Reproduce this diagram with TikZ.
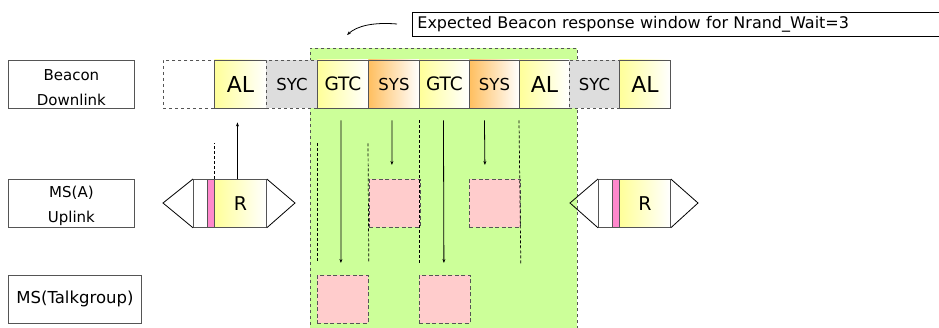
\documentclass[tikz,border=0pt]{standalone}
\usepackage{fontspec}
\setmainfont{DejaVu Sans}
\usetikzlibrary{arrows.meta}
\definecolor{greenbg}{HTML}{CCFF99}
\definecolor{pinkbox}{HTML}{FFCCCC}
\definecolor{yel}{HTML}{FFFF99}
\definecolor{ora}{HTML}{FFBF60}
\definecolor{gry}{HTML}{DDDDDD}
\definecolor{brd}{HTML}{555555}
\definecolor{stripe}{HTML}{FF88CC}
\tikzset{
 slot/.style={draw=brd, line width=0.9pt, minimum height=48pt, inner sep=0pt, anchor=west},
 alslot/.style={slot, left color=yel, right color=white, font=\fontsize{22}{22}\selectfont},
 gtcslot/.style={slot, left color=yel, right color=white, font=\fontsize{18.5}{18.5}\selectfont},
 sysslot/.style={slot, left color=ora, right color=white, font=\fontsize{16.5}{16.5}\selectfont},
 sycslot/.style={slot, fill=gry, dashed, font=\fontsize{16.5}{16.5}\selectfont},
 emptyslot/.style={slot, fill=white, dashed},
 pinkb/.style={draw=brd, line width=0.8pt, dashed, dash pattern=on 4pt off 2.5pt, fill=pinkbox, minimum width=51pt, minimum height=48pt, inner sep=0pt, anchor=north west},
 lbl/.style={draw=brd, line width=0.8pt, fill=white, minimum height=48pt, inner sep=0pt, anchor=north west},
 lbltext/.style={align=center, inner sep=0pt, font=\fontsize{15}{25}\selectfont},
 dline/.style={black, line width=0.7pt, dash pattern=on 3pt off 2pt},
 arr/.style={black, line width=0.8pt, -{Stealth[length=4pt,width=3pt]}},
 ubox/.style={draw=brd, line width=0.8pt, minimum height=48pt, inner sep=0pt, anchor=north west},
 tri/.style={black, line width=0.8pt},
}
\begin{document}
\begin{tikzpicture}[x=1pt,y=-1pt]
\useasboundingbox (0,0) rectangle (939,328);
\clip (0,0) rectangle (939,328);
% response window
\node[fill=greenbg, draw=brd, dashed, line width=0.8pt, minimum width=267pt, minimum height=290pt, inner sep=0pt, anchor=north west] (win) at (310,48) {};
% caption
\node[draw=black, line width=0.8pt, anchor=north west, minimum height=24pt, text width=560pt, inner xsep=5pt, inner ysep=0pt, align=left, font=\fontsize{16}{16}\selectfont] (tb) at (412,12) {Expected Beacon response window for Nrand\_Wait=3};
\coordinate (cs) at (397,24);
\coordinate (ce) at (347,35);
\draw[arr] (cs) .. controls (373,22) and (357,26) .. (ce);
% row labels
\node[lbl, minimum width=126pt] (l1) at (8,60) {};
\node[lbltext] (l1t) at ([yshift=-3pt]l1.center) {Beacon\\Downlink};
\node[lbl, minimum width=126pt] (l2) at (8,179) {};
\node[lbltext] (l2t) at ([yshift=-2pt]l2.center) {MS(A)\\Uplink};
\node[lbl, minimum width=133pt] (l3) at (8,275) {};
\node[lbltext, font=\fontsize{16.5}{16.5}\selectfont] (l3t) at (l3.center) {MS(Talkgroup)};
% beacon downlink slots
\node[emptyslot, minimum width=51pt] (b0) at (163,84) {};
\node[alslot, minimum width=52pt] (b1) at (214,84) {AL};
\node[sycslot, minimum width=51pt] (b2) at (266,84) {SYC};
\node[gtcslot, minimum width=51pt] (b3) at (317,84) {GTC};
\node[sysslot, minimum width=51pt] (b4) at (368,84) {SYS};
\node[gtcslot, minimum width=50pt] (b5) at (419,84) {GTC};
\node[sysslot, minimum width=50pt] (b6) at (469,84) {SYS};
\node[alslot, minimum width=50pt] (b7) at (519,84) {AL};
\node[sycslot, minimum width=50pt] (b8) at (569,84) {SYC};
\node[alslot, minimum width=51pt] (b9) at (619,84) {AL};
% pink response boxes
\node[pinkb] (p1) at (369,179) {};
\node[pinkb] (p2) at (469,179) {};
\node[pinkb] (t1) at (317,275) {};
\node[pinkb] (t2) at (419,275) {};
% MS(A) uplink, first burst
\node[ubox, fill=white, minimum width=14pt] (u1w) at (193,179) {};
\node[ubox, fill=stripe, minimum width=7pt] (u1s) at (207,179) {};
\node[ubox, left color=yel, right color=white, minimum width=52pt, font=\fontsize{19}{19}\selectfont] (r1) at (214,179) {R};
\coordinate (u1l) at (163,203);
\coordinate (u1r) at (295,203);
\draw[tri] (u1w.north west) -- (u1l) -- (u1w.south west);
\draw[tri] (r1.north east) -- (u1r) -- (r1.south east);
% MS(A) uplink, second burst
\node[ubox, fill=white, minimum width=14pt] (u2w) at (598,179) {};
\node[ubox, fill=stripe, minimum width=7pt] (u2s) at (612,179) {};
\node[ubox, left color=yel, right color=white, minimum width=51pt, font=\fontsize{19}{19}\selectfont] (r2) at (619,179) {R};
\coordinate (u2l) at (570,203);
\coordinate (u2r) at (698,203);
\draw[tri] (u2w.north west) -- (u2l) -- (u2w.south west);
\draw[tri] (r2.north east) -- (u2r) -- (r2.south east);
% dashed guide lines
\draw[dline] (r1.north west) -- ++(0,-36);
\draw[dline] ([yshift=-35pt]b3.south west) -- ([yshift=12pt]t1.north west);
\draw[dline] ([yshift=-35pt]b4.south west) -- ([yshift=12pt]t1.north east);
\draw[dline] ([yshift=-12pt]b5.south west) -- ([yshift=12pt]t2.north west);
\draw[dline] ([yshift=-12pt]b7.south west) -- ([yshift=-36pt]p2.south east);
% arrows
\draw[arr] ([xshift=-3pt]r1.north) -- ([xshift=-3pt,yshift=-14pt]b1.south);
\draw[arr] ([xshift=-2pt,yshift=-12pt]b3.south) -- ([xshift=-2pt,yshift=12pt]t1.north);
\draw[arr] ([xshift=-2pt,yshift=-12pt]b4.south) -- ([xshift=-3pt,yshift=14pt]p1.north);
\draw[arr] ([xshift=-1pt,yshift=-12pt]b5.south) -- ([xshift=-1pt,yshift=12pt]t2.north);
\draw[arr] ([xshift=-10pt,yshift=-12pt]b6.south) -- ([xshift=-10pt,yshift=14pt]p2.north);
\end{tikzpicture}
\end{document}
